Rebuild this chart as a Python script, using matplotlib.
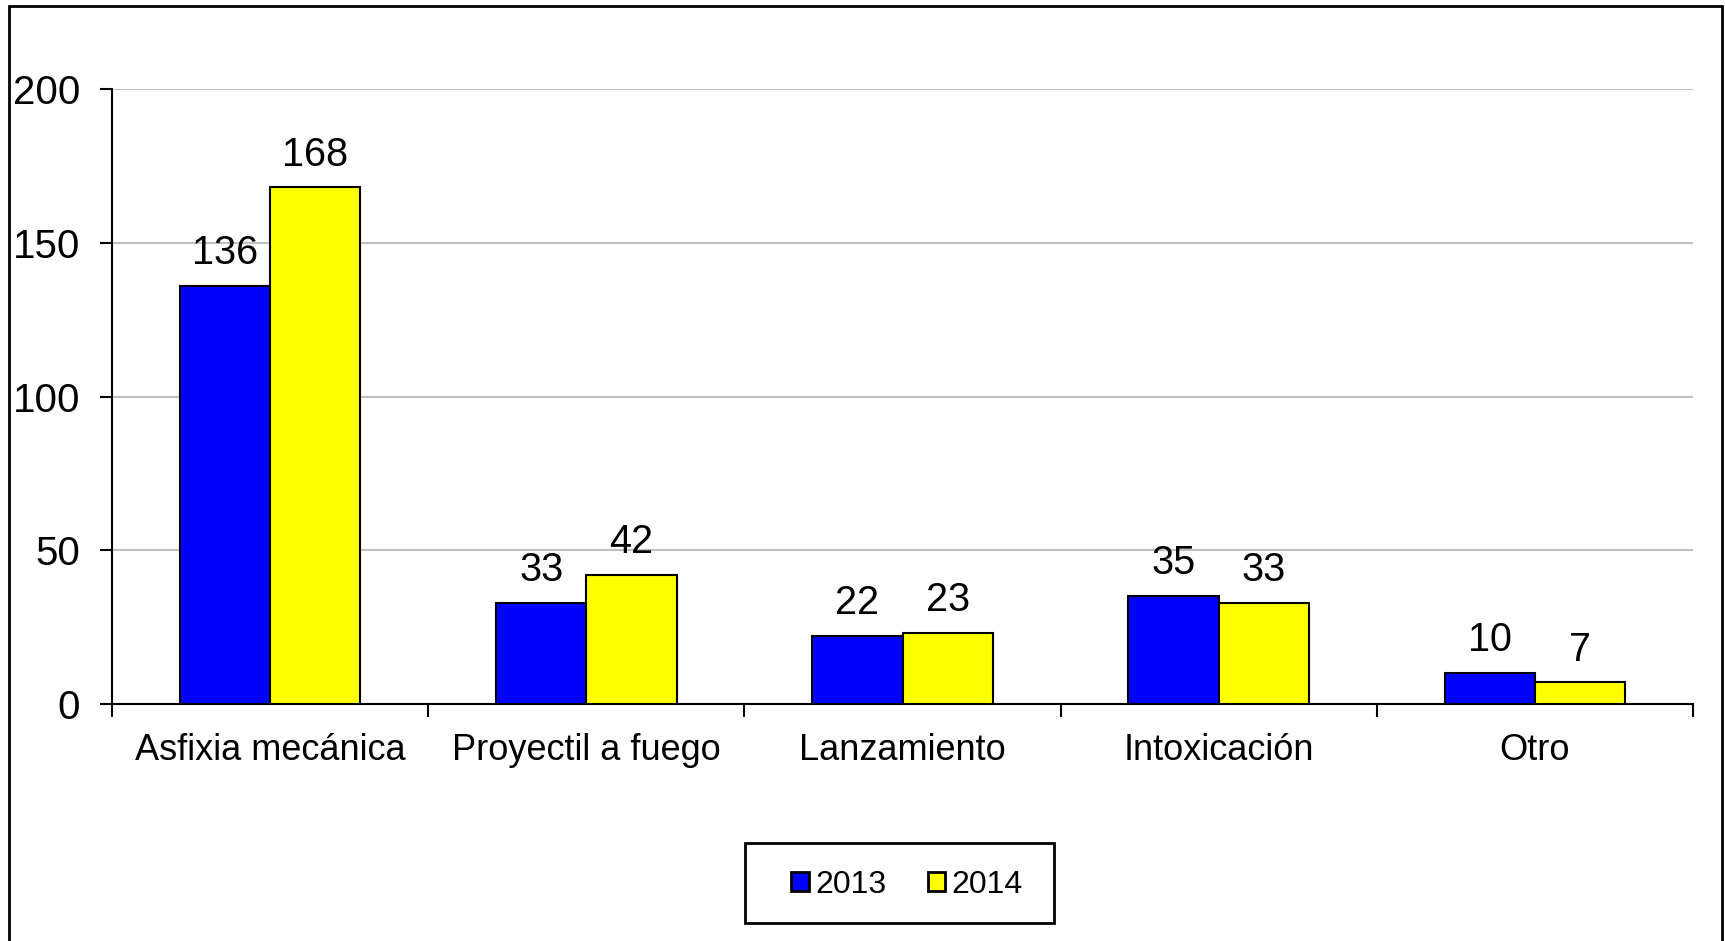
import numpy as np
import matplotlib
matplotlib.use("Agg")
from matplotlib import pyplot as plt
from matplotlib.patches import Rectangle

plt.rcParams['font.family'] = ['Liberation Sans', 'DejaVu Sans']

categories = ['Asfixia mecánica', 'Proyectil a fuego', 'Lanzamiento', 'Intoxicación', 'Otro']
years = ['2013', '2014']
vals_2013 = [136, 33, 22, 35, 10]
vals_2014 = [168, 42, 23, 33, 7]
colors = ['#0000FF', '#FFFF00']

fig = plt.figure(figsize=(17.25, 9.41), dpi=100)
ax = fig.add_axes([112/1725, 1-704/941, (1693-112)/1725, (704-89)/941])

x = np.arange(len(categories))
w = 1/3.5
b1 = ax.bar(x - w/2, vals_2013, w, color=colors[0], edgecolor='black', linewidth=1.5, label=years[0], zorder=3)
b2 = ax.bar(x + w/2, vals_2014, w, color=colors[1], edgecolor='black', linewidth=1.5, label=years[1], zorder=3)

for bars in (b1, b2):
    for r in bars:
        ax.annotate(f'{int(r.get_height())}', (r.get_x() + r.get_width()/2, r.get_height()),
                    xytext=(0, 10), textcoords='offset points', ha='center', va='bottom', fontsize=28.5)

ax.set_xlim(-0.5, len(categories) - 0.5)
ax.set_ylim(0, 200)
ax.set_yticks([0, 50, 100, 150, 200])
ax.yaxis.grid(True, color='#c0c0c0', linewidth=1.5, zorder=0)
ax.set_axisbelow(True)

ax.set_xticks(np.arange(len(categories) + 1) - 0.5)
ax.set_xticklabels([])
ax.set_xticks(x, minor=True)
ax.set_xticklabels(categories, minor=True)
ax.tick_params(axis='x', which='minor', length=0, pad=21, labelsize=26)
ax.tick_params(axis='x', which='major', length=9, width=1.5, direction='out')
ax.tick_params(axis='y', length=9, width=1.5, pad=14, labelsize=29)

for s in ['top', 'right']:
    ax.spines[s].set_visible(False)
for s in ['left', 'bottom']:
    ax.spines[s].set_linewidth(1.5)

# legend entries without frame, box drawn separately
leg = fig.legend(handles=[b1, b2], labels=years, loc='center', bbox_to_anchor=(907/1725, 1-885/941),
                 ncol=2, fontsize=23, frameon=False,
                 handlelength=0.55, handleheight=0.55, handletextpad=0.2, columnspacing=1.3,
                 borderpad=0, borderaxespad=0)
for h in leg.legend_handles:
    h.set_linewidth(2)

fig.patches.append(Rectangle((745/1725, 1-923/941), (1054-745)/1725, 80/941, transform=fig.transFigure,
                             fill=False, edgecolor='black', linewidth=2))

fig.patches.append(Rectangle((9/1725, -0.05), (1722-9)/1725, 1.05 - 6/941, transform=fig.transFigure,
                             fill=False, edgecolor='black', linewidth=2))

fig.savefig('out.png', dpi=100)
